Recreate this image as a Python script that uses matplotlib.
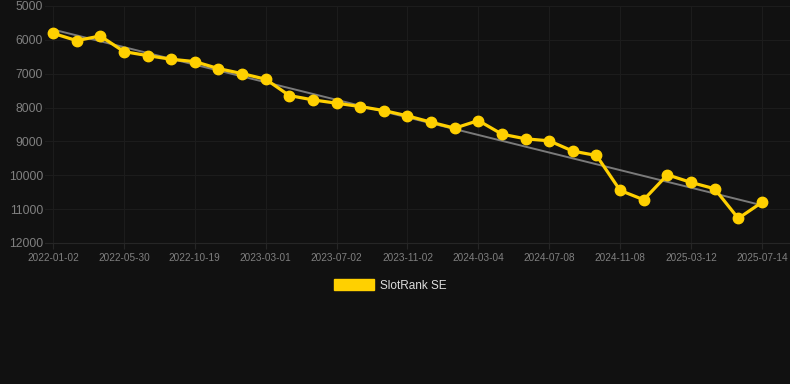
"""SlotRank SE rank history with linear trend, dark theme. Saves out.png."""

import matplotlib
matplotlib.use("Agg")
import matplotlib.pyplot as plt  # noqa: E402
import numpy as np  # noqa: E402

BG, YELLOW, TREND, GRID, TICK = "#111111", "#ffd000", "#7a7a7a", "#1c1c1c", "#808080"

tick_labels = ["2022-01-02", "2022-05-30", "2022-10-19", "2023-03-01", "2023-07-02",
               "2023-11-02", "2024-03-04", "2024-07-08", "2024-11-08", "2025-03-12",
               "2025-07-14"]
rank = [5806, 6023, 5885, 6347, 6465, 6573, 6642, 6849, 6996, 7163,
        7645, 7773, 7871, 7970, 8088, 8245, 8432, 8609, 8383, 8786,
        8923, 8982, 9287, 9415, 10447, 10723, 9985, 10211, 10398, 11273,
        10801]
y_ticks = [5000, 6000, 7000, 8000, 9000, 10000, 11000, 12000]

x = np.arange(len(rank))
slope, icpt = np.polyfit(x, rank, 1)

fig = plt.figure(figsize=(7.9, 3.84), dpi=100, facecolor=BG)
ax = fig.add_axes([45 / 790, 1 - 243 / 384, 745 / 790, 237 / 384], facecolor=BG)

ax.plot(x, slope * x + icpt, color=TREND, lw=1.4, zorder=2)
ax.plot(x, rank, color=YELLOW, lw=2.3, marker="o", ms=7.5, zorder=3,
        label="SlotRank SE")

ax.set_xlim(-0.34, 31.19)
ax.set_ylim(12000, 5000)
ax.set_yticks(y_ticks)
ax.set_xticks(x[::3])
ax.set_xticklabels(tick_labels)
ax.grid(True, color=GRID, lw=0.8)
ax.set_axisbelow(True)
for side in ("top", "right", "left"):
    ax.spines[side].set_visible(False)
ax.spines["bottom"].set_color("#262626")
ax.tick_params(axis="x", colors="#262626", labelcolor=TICK, labelsize=7.2, length=4, pad=3)
ax.tick_params(axis="y", length=0, labelcolor=TICK, labelsize=8.7, pad=1.5)
for t in ax.get_yticklabels() + ax.get_xticklabels():
    t.set_fontfamily("Liberation Sans")

leg = ax.legend(handles=[plt.Rectangle((0, 0), 1, 1, color=YELLOW)], labels=["SlotRank SE"],
                frameon=False, loc="upper center", bbox_to_anchor=(0.463, -0.109),
                handlelength=3.4, handleheight=1.0, handletextpad=0.5,
                prop={"family": "Liberation Sans", "size": 8.5})
for t in leg.get_texts():
    t.set_color("#dddddd")

fig.savefig("out.png", dpi=100, facecolor=BG)
